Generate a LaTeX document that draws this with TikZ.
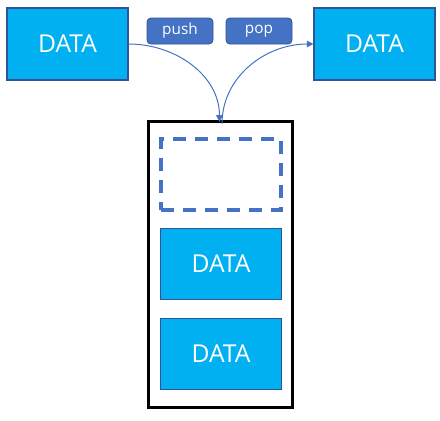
\documentclass[tikz,border=0pt]{standalone}
\usepackage{fontspec}
\setmainfont{Open Sans}
\usetikzlibrary{arrows.meta}
\definecolor{databg}{HTML}{00B0F0}
\definecolor{databd}{HTML}{2F5597}
\definecolor{accent}{HTML}{4472C4}
\definecolor{accentbd}{HTML}{2F528F}
\begin{document}
\begin{tikzpicture}[x=0.75pt,y=-0.75pt,
  databox/.style={draw=databd,line width=0.8pt,fill=databg,text=white,
    minimum width=121*0.75pt,minimum height=72*0.75pt,inner sep=0pt,
    font=\fontsize{18.5}{22}\selectfont},
  tagbox/.style={draw=accentbd,line width=0.6pt,fill=accent,text=white,rounded corners=3pt,
    minimum width=66*0.75pt,minimum height=26*0.75pt,inner sep=0pt,
    font=\fontsize{11.5}{14}\selectfont},
  conn/.style={draw=accent,line width=0.75pt,-{Triangle[length=5pt,width=5pt]}}]
\useasboundingbox (0,0) rectangle (440,421);
\node[databox] (left) at (67.5,44) {DATA};
\node[databox] (right) at (374.5,44) {DATA};
\node[tagbox] (push) at (180,31) {push};
\node[tagbox] (pop) at (259,31) {pop};
\node[draw=black,line width=2.4pt,minimum width=144*0.75pt,minimum height=286*0.75pt,inner sep=0pt] (stack) at (220.5,264.5) {};
\node[draw=accent,line width=2.3pt,dash pattern=on 10pt off 6.5pt,minimum width=120*0.75pt,minimum height=71*0.75pt,inner sep=0pt] (slot) at (221,174.5) {};
\node[databox,minimum height=71*0.75pt] (d1) at (221,264) {DATA};
\node[databox,minimum height=71*0.75pt] (d2) at (221,354) {DATA};
\draw[conn] (left.east) to[out=0,in=90] ([xshift=-1*0.75pt,yshift=-2*0.75pt]stack.north);
\draw[conn] ([xshift=1.5*0.75pt,yshift=-4*0.75pt]stack.north) to[out=90,in=180] (right.west);
\end{tikzpicture}
\end{document}
